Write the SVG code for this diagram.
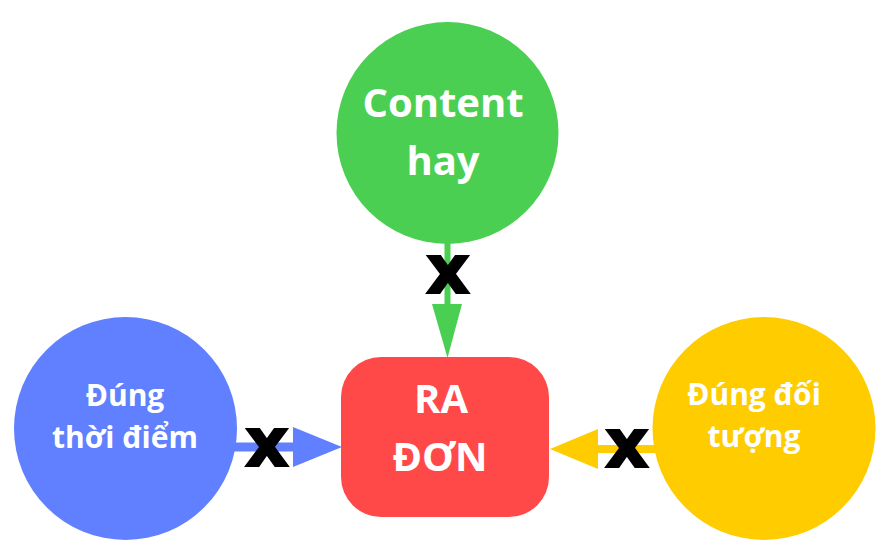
<svg xmlns="http://www.w3.org/2000/svg" width="885" height="553" viewBox="0 0 885 553">
<style>
.lbl{font-family:"Open Sans","Noto Sans","Liberation Sans",sans-serif;font-weight:bold;fill:#ffffff;text-anchor:middle}
.big{font-size:40px}
.sm{font-size:30px}
.xm{font-family:"DejaVu Sans","Liberation Sans",sans-serif;font-weight:bold;font-size:68px;fill:#000;stroke:#000;stroke-width:2;text-anchor:middle}
</style>
<rect width="885" height="553" fill="#ffffff"/>
<g id="connectors">
  <line x1="447.5" y1="240" x2="447.5" y2="306" stroke="#4ACF52" stroke-width="6"/>
  <polygon points="432,304 462,304 447.5,358" fill="#4ACF52"/>
  <text class="xm" x="448" y="293">x</text>
  <line x1="232" y1="447" x2="295" y2="447" stroke="#6080FF" stroke-width="9"/>
  <polygon points="293,427 293,467 342,447" fill="#6080FF"/>
  <text class="xm" x="267" y="466">x</text>
  <line x1="596" y1="449" x2="658" y2="449" stroke="#FFCC00" stroke-width="8"/>
  <polygon points="598,429 598,469 550,449" fill="#FFCC00"/>
  <text class="xm" x="627" y="467">x</text>
</g>
<g id="node-content">
  <circle cx="447.5" cy="133" r="111" fill="#4ACF52"/>
  <text class="lbl big" x="443" y="117">Content</text>
  <text class="lbl big" x="443" y="175">hay</text>
</g>
<g id="node-thoidiem">
  <circle cx="125.5" cy="428.5" r="111.5" fill="#6080FF"/>
  <text class="lbl sm" x="125" y="406">Đúng</text>
  <text class="lbl sm" x="125" y="448">thời điểm</text>
</g>
<g id="node-doituong">
  <circle cx="764" cy="428.5" r="111.5" fill="#FFCC00"/>
  <text class="lbl sm" x="754" y="405">Đúng đối</text>
  <text class="lbl sm" x="754" y="447">tượng</text>
</g>
<g id="node-radon">
  <rect x="341" y="357" width="208" height="160" rx="40" fill="#FF4949"/>
  <text class="lbl big" x="441" y="413">RA</text>
  <text class="lbl big" x="440" y="471">ĐƠN</text>
</g>
</svg>
